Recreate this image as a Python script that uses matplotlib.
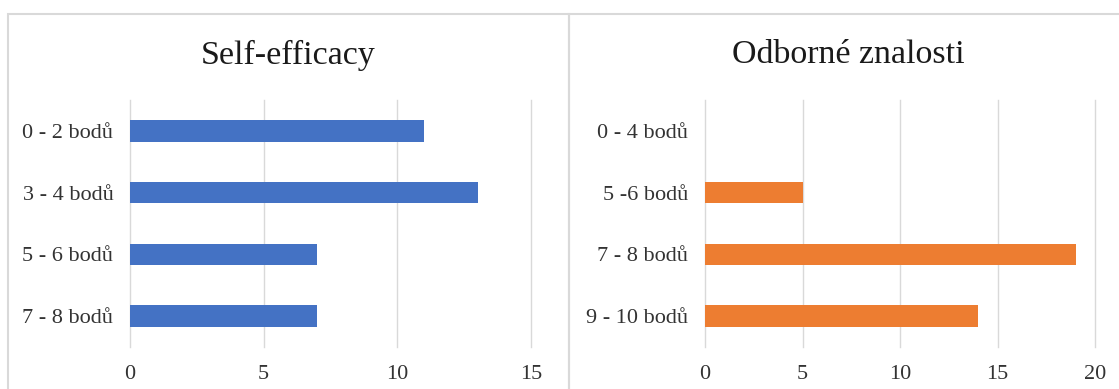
import matplotlib.pyplot as plt
from matplotlib.patches import Rectangle

# Self-efficacy score bands and counts
se_labels = ["0 - 2 bodů", "3 - 4 bodů", "5 - 6 bodů", "7 - 8 bodů"]
se_counts = [11, 13, 7, 7]
se_ticks = [0, 5, 10, 15]

# Odborné znalosti score bands and counts
oz_labels = ["0 - 4 bodů", "5 -6 bodů", "7 - 8 bodů", "9 - 10 bodů"]
oz_counts = [0, 5, 19, 14]
oz_ticks = [0, 5, 10, 15, 20]

W, H = 1119, 389
plt.rcParams['font.family'] = ['Liberation Serif', 'DejaVu Serif']

fig = plt.figure(figsize=(W / 100, H / 100), dpi=100)


def px_axes(x0, x1, y0, y1):
    return fig.add_axes([x0 / W, 1 - y1 / H, (x1 - x0) / W, (y1 - y0) / H])


def draw_panel(ax, labels, counts, ticks, color):
    ypos = range(len(labels))
    ax.barh(ypos, counts, height=0.35, color=color, zorder=3)
    ax.set_ylim(len(labels) - 0.5, -0.5)
    ax.set_xlim(ticks[0], ticks[-1])
    ax.set_xticks(ticks)
    ax.set_yticks(list(ypos))
    ax.set_yticklabels(labels)
    ax.grid(axis='x', color='#d9d9d9', linewidth=1.0, zorder=0)
    # keep the edge gridlines whole
    for gl in ax.get_xgridlines():
        gl.set_clip_on(False)
    for s in ax.spines.values():
        s.set_visible(False)
    ax.tick_params(axis='both', length=0, labelsize=16, colors='#333333')
    ax.tick_params(axis='y', pad=12)
    ax.tick_params(axis='x', pad=13)


ax1 = px_axes(130, 531, 100, 347)
draw_panel(ax1, se_labels, se_counts, se_ticks, '#4472c4')

ax2 = px_axes(705, 1095, 100, 347)
draw_panel(ax2, oz_labels, oz_counts, oz_ticks, '#ed7d31')

# chart frames
for x0, x1 in [(8, 569), (569, 1130)]:
    fig.patches.append(Rectangle((x0 / W, -0.1), (x1 - x0) / W, 1.1 - 14 / H,
                                 transform=fig.transFigure, fill=False,
                                 edgecolor='#d9d9d9', linewidth=1.5))

fig.text(288.5 / W, 1 - 55 / H, "Self-efficacy", ha='center', va='center',
         fontsize=24.5, color='#1a1a1a')
fig.text(848 / W, 1 - 55 / H, "Odborné znalosti", ha='center', va='center',
         fontsize=24.5, color='#1a1a1a')

fig.savefig("out.png", dpi=100)
